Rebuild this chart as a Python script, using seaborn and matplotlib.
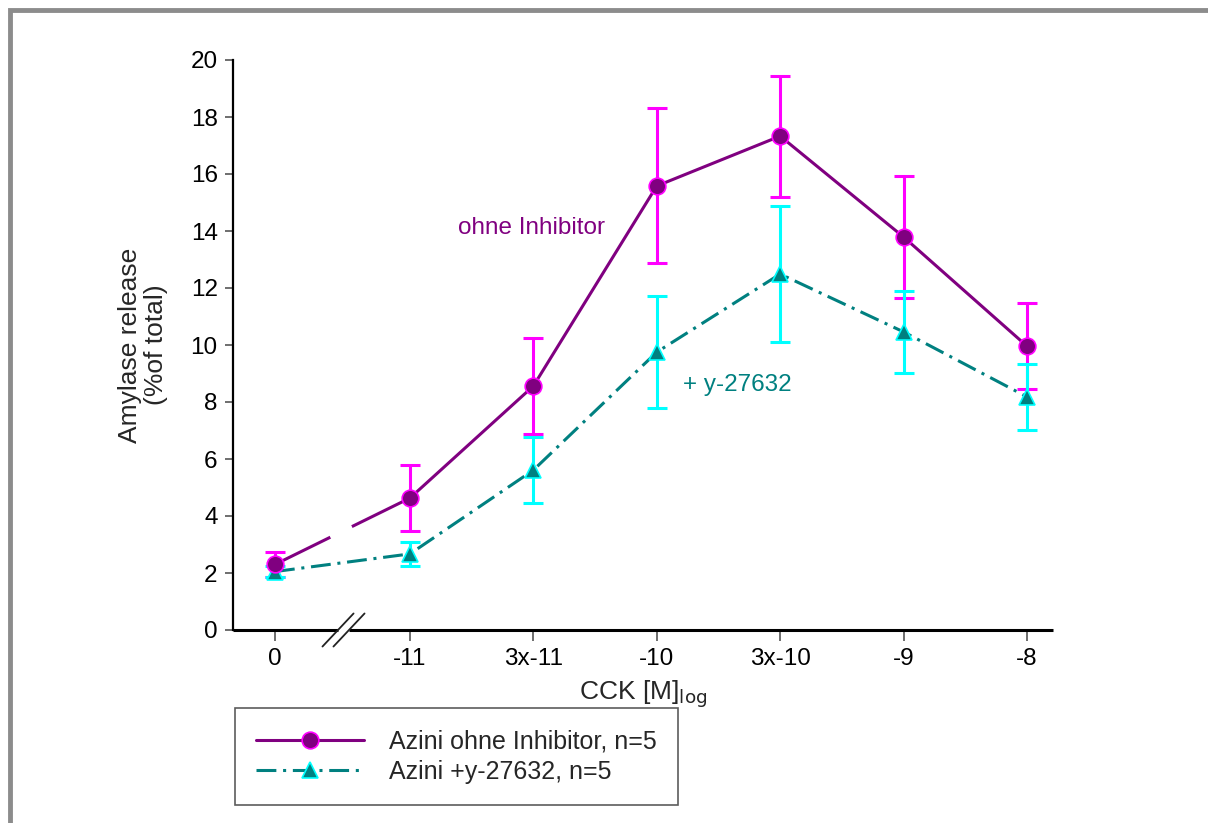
import numpy as np
import pandas as pd
import matplotlib
matplotlib.use("Agg")
import matplotlib.pyplot as plt
import seaborn as sns
from matplotlib.patches import Rectangle
from matplotlib.lines import Line2D

# Daten
cck_labels = ["0", "-11", "3x-11", "-10", "3x-10", "-9", "-8"]
ohne_mean = [2.30, 4.63, 8.56, 15.58, 17.33, 13.79, 9.96]
ohne_sem = [0.45, 1.16, 1.70, 2.72, 2.12, 2.15, 1.52]
inhib_mean = [2.05, 2.67, 5.61, 9.75, 12.49, 10.46, 8.18]
inhib_sem = [0.20, 0.42, 1.16, 1.96, 2.40, 1.45, 1.17]

# Positionen auf der x-Achse (0 liegt hinter dem Achsenbruch)
x_pos = [-0.094, 1, 2, 3, 4, 5, 6]

df = pd.DataFrame({
    "x": x_pos * 2,
    "y": ohne_mean + inhib_mean,
    "gruppe": ["Azini ohne Inhibitor, n=5"] * 7 + ["Azini +y-27632, n=5"] * 7,
})

sns.set_style("ticks")
plt.rcParams["font.family"] = ["Liberation Sans", "DejaVu Sans"]

fig = plt.figure(figsize=(12.08, 8.23), dpi=100)
ax = fig.add_axes([233 / 1208, 193 / 823, 820 / 1208, 570 / 823])

purple, magenta = "#800080", "#FF00FF"
teal, cyan = "#008080", "#00FFFF"
dash_dot = (6.5, 2.2, 1.0, 2.2)

# Fehlerbalken
ax.errorbar(x_pos, ohne_mean, yerr=ohne_sem, fmt="none", ecolor=magenta,
            elinewidth=2.2, capsize=7, capthick=2.2, zorder=2)
ax.errorbar(x_pos, inhib_mean, yerr=inhib_sem, fmt="none", ecolor=cyan,
            elinewidth=2.2, capsize=7, capthick=2.2, zorder=2)

sub1 = df[df["gruppe"] == "Azini ohne Inhibitor, n=5"]
sub2 = df[df["gruppe"] == "Azini +y-27632, n=5"]
sns.lineplot(data=sub1, x="x", y="y", ax=ax, color=purple, lw=2.2,
             marker="o", markersize=12, markeredgecolor=magenta,
             markeredgewidth=1.2, sort=False, zorder=4, legend=False)
sns.lineplot(data=sub2, x="x", y="y", ax=ax, color=teal, lw=2.2,
             marker="^", markersize=12, markeredgecolor=cyan,
             markeredgewidth=1.2, sort=False, zorder=3, legend=False,
             dashes=False)
ax.lines[-1].set_dashes(dash_dot)

# Lücke in der ersten Linie am Achsenbruch
f0, f1 = 0.41, 0.57
gx = [x_pos[0] + f * (x_pos[1] - x_pos[0]) for f in (f0, f1)]
gy = [ohne_mean[0] + f * (ohne_mean[1] - ohne_mean[0]) for f in (f0, f1)]
ax.plot(gx, gy, color="white", lw=4, solid_capstyle="butt", zorder=4.5)

ax.set_xlim(-0.434, 6.211)
ax.set_ylim(0, 20)
ax.set_yticks(range(0, 21, 2))
ax.set_xticks(x_pos)
ax.set_xticklabels(cck_labels)
ax.tick_params(axis="both", labelsize=17.5, width=1.2, color="#555555",
               labelcolor="black")
ax.tick_params(axis="y", length=6, pad=5)
ax.tick_params(axis="x", length=8, pad=5)
sns.despine(ax=ax)
ax.spines["left"].set_linewidth(1.6)
ax.spines["left"].set_color("black")
ax.spines["bottom"].set_visible(False)

# x-Achse mit Bruch
trans = ax.get_xaxis_transform()
b0, b1 = 0.417, 0.506
ax.plot([-0.434, b0], [0, 0], transform=trans, color="black", lw=2.2,
        clip_on=False, solid_capstyle="butt")
ax.plot([b1, 6.211], [0, 0], transform=trans, color="black", lw=2.2,
        clip_on=False, solid_capstyle="butt")
dx, dy = 0.126, 0.029
for bx in (b0, b1):
    ax.plot([bx - dx, bx + dx], [-dy, dy], transform=trans, color="#222222",
            lw=1.3, clip_on=False)

ax.set_xlabel("CCK [M]$_{\\mathrm{log}}$", fontsize=19, labelpad=6)
ax.set_ylabel("Amylase release\n(%of total)", fontsize=19, labelpad=16,
              linespacing=1.1)

ax.text(1.39, 14.1, "ohne Inhibitor", color=purple, fontsize=17.5, va="center")
ax.text(3.21, 8.6, "+ y-27632", color=teal, fontsize=17.5, va="center")

handles = [
    Line2D([], [], color=purple, lw=2.2, marker="o", markersize=12,
           markeredgecolor=magenta, markeredgewidth=1.2),
    Line2D([], [], color=teal, lw=2.2, marker="^", markersize=12,
           markeredgecolor=cyan, markeredgewidth=1.2, dashes=dash_dot),
]
leg = fig.legend(handles, list(df["gruppe"].unique()), loc="upper left",
                 bbox_to_anchor=(235 / 1208, 1 - 708 / 823), fontsize=18,
                 frameon=True, fancybox=False, edgecolor="#333333",
                 handlelength=4.3, handletextpad=1.0, borderpad=0.85,
                 labelspacing=0.25, borderaxespad=0)
leg.get_frame().set_linewidth(1.2)

# grauer Rahmen
fig.patches.append(Rectangle((10 / 1208, -0.1), 2, 1 - 10 / 823 + 0.1,
                             transform=fig.transFigure, fill=False,
                             edgecolor="#8c8c8c", lw=3.5))

fig.savefig("out.png", dpi=100)
